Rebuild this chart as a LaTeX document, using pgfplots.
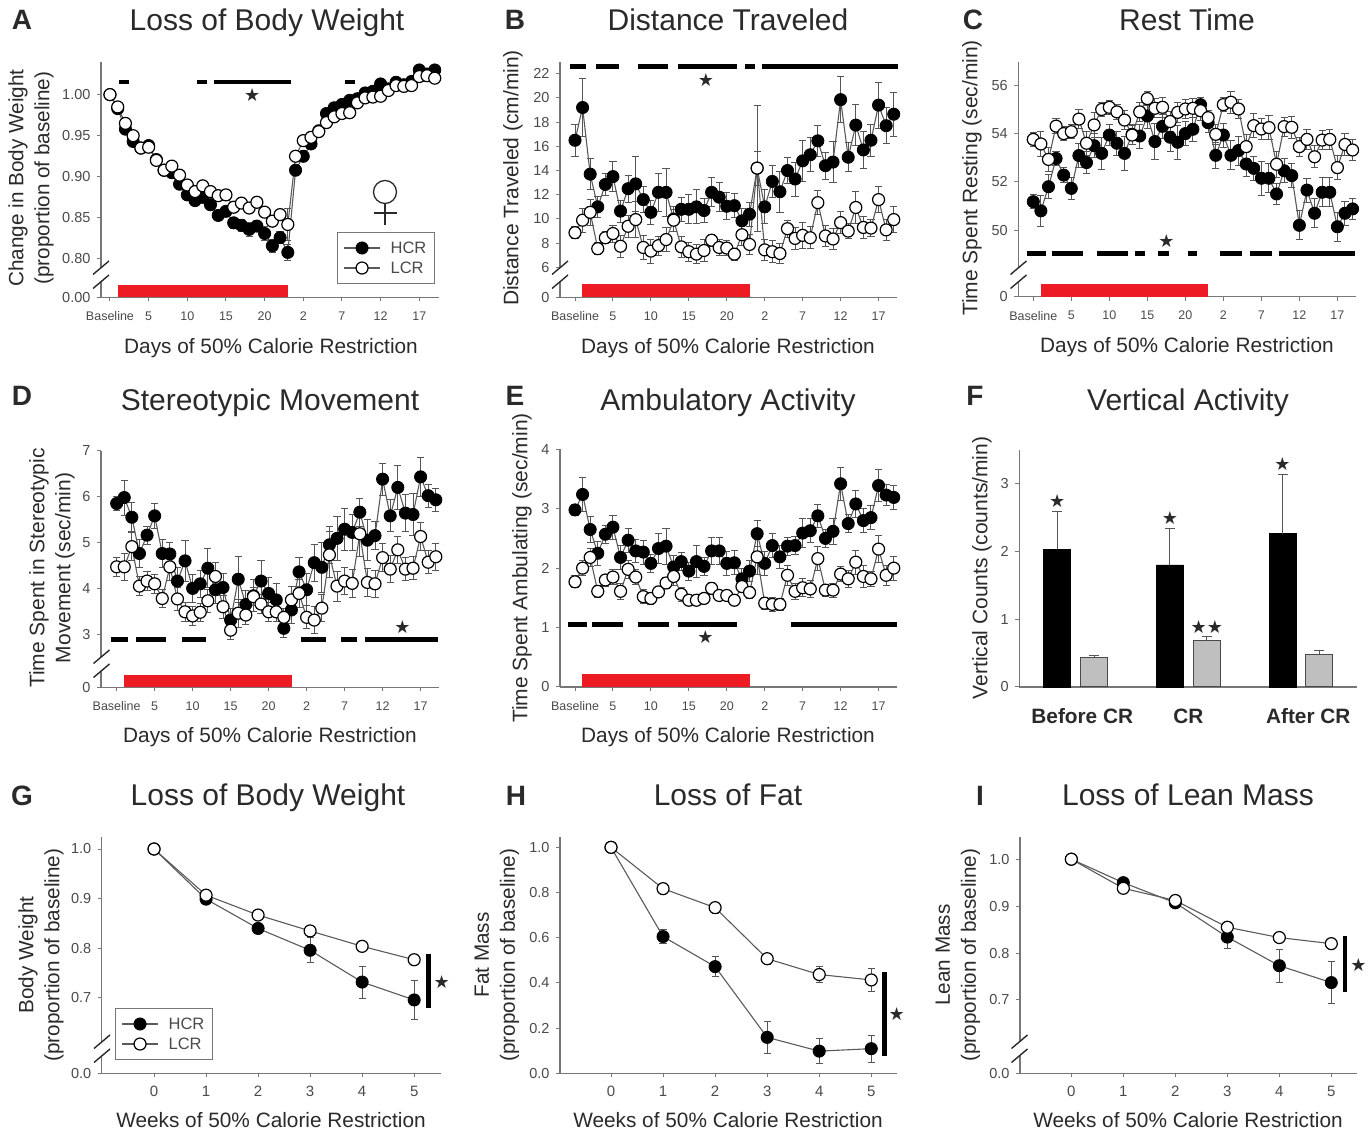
\documentclass[border=0pt]{standalone}
\usepackage{pgfplots}
\usepackage{pgfplotstable}
\usepackage{fontspec}
\setmainfont{Liberation Sans}
\newfontfamily\sym{DejaVu Sans}
\pgfplotsset{compat=1.18}
\definecolor{tx}{HTML}{2A2A2A}
\definecolor{tk}{HTML}{4A4A4A}
\definecolor{ax}{HTML}{777777}
\definecolor{ln}{HTML}{5A5A5A}
\definecolor{er}{HTML}{555555}
\definecolor{rd}{HTML}{ED1C24}
\newcommand\SetPanel[4]{\def\PL{#1}\def\PT{#2}\def\PR{#3}\def\PB{#4}%
 \pgfmathsetmacro\PY{1134-#4}\pgfmathsetmacro\PW{#3-#1}\pgfmathsetmacro\PH{#4-#2}}
\tikzset{px at/.style 2 args={at={(axis description cs:{(#1-\PL)/(\PR-\PL)},{(\PB-#2)/(\PB-\PT)})},anchor=center}}
\pgfplotsset{
 bx/.style={scale only axis,at={(\PL pt,\PY pt)},anchor=south west,width=\PW pt,height=\PH pt,
  axis x line*=bottom,axis y line*=left,clip=false,unbounded coords=jump,
  axis line style={ax,line width=1.2pt,-},
  tick align=outside,major tick length=4pt,tick style={ax,line width=1pt},
  minor tick num=0,every axis title shift=0pt,
  title style={font=\fontsize{30}{34}\selectfont,text=tx,text height=22pt,text depth=7pt,yshift=-2.5pt},
  xlabel style={font=\fontsize{20.8}{25}\selectfont,text=tx},
  ylabel style={font=\fontsize{21}{26}\selectfont,text=tx,align=center},
  yticklabel style={font=\fontsize{14.5}{16}\selectfont,text=tk,xshift=-3pt},
  xticklabel style={font=\fontsize{12}{14}\selectfont,text=tk,yshift=-5pt},
  legend cell align=left,
  legend image code/.code={\draw[##1,mark repeat=2,mark phase=2] plot coordinates {(0pt,0pt)(18pt,0pt)(36pt,0pt)};},
  legend style={font=\fontsize{16.5}{18}\selectfont,text=tk,draw=ax,line width=1pt,anchor=north west,
   inner xsep=6pt,inner ysep=7pt,row sep=3pt,/tikz/every odd column/.append style={column sep=8pt}},
 },
 two/.style={ylabel style={font=\fontsize{20.7}{26}\selectfont}},
 daily/.style={xtick={0,5,10,15,20,25,30,35,40},xticklabels={Baseline,5,10,15,20,2,7,12,17},
  xlabel style={yshift=-2pt},
  xticklabel style={font=\fontsize{12.5}{14}\selectfont,yshift=-2pt}},
 weekly/.style={two,xtick={0,1,2,3,4,5},xticklabels={0,1,2,3,4,5},xticklabel style={font=\fontsize{15}{16}\selectfont,yshift=0pt}},
 hcr/.style={ln,line width=1.1pt,mark=*,mark size=6.1pt,mark options={fill=black,draw=black,solid,line width=.8pt},
  error bars/.cd,y dir=both,y explicit,error bar style={er,line width=1pt},error mark options={er,mark size=3.6pt,line width=.9pt,rotate=90}},
 lcr/.style={ln,line width=1.1pt,mark=*,mark size=6pt,mark options={fill=white,draw=black,solid,line width=1.2pt},
  error bars/.cd,y dir=both,y explicit,error bar style={er,line width=1pt},error mark options={er,mark size=3.6pt,line width=.9pt,rotate=90}},
 sig/.style={black,line width=4.6pt,forget plot,no markers,line cap=butt},
 redbar/.style={draw=none,fill=rd,forget plot,no markers},
}
\tikzset{star/.style={font=\sym\fontsize{18}{20}\selectfont,text=tx,inner sep=0pt}}
\newcommand\Lab[3]{\node[font=\bfseries\fontsize{28}{30}\selectfont,text=tx,inner sep=0pt] at (#1pt,1134pt-#2pt) {#3};}
\newcommand\Brk[2]{%
 \fill[white] (#1pt-3pt,1134pt-#2pt+7pt) -- (#1pt+3pt,1134pt-#2pt+7pt) -- (#1pt+3pt,1134pt-#2pt-7pt) -- (#1pt-3pt,1134pt-#2pt-7pt) -- cycle;
 \draw[tx,line width=1.4pt] (#1pt-8pt,1134pt-#2pt+.5pt) -- (#1pt+8pt,1134pt-#2pt+14pt);
 \draw[tx,line width=1.4pt] (#1pt-8pt,1134pt-#2pt-13.5pt) -- (#1pt+8pt,1134pt-#2pt);}
% ---------- data: i, HCR, error, LCR, error
\pgfplotstableread[row sep=\\]{
i h he l le\\
0 1.000 0 1.000 0\\ 1 .983 .003 .985 .003\\ 2 .958 .004 .965 .003\\ 3 .943 .004 .950 .003\\ 4 .935 .004 .935 .003\\
5 .938 .004 .936 .003\\ 6 .921 .004 .920 .003\\ 7 .908 .004 .908 .003\\ 8 .905 .005 .913 .004\\ 9 .891 .005 .902 .004\\
10 .878 .005 .890 .004\\ 11 .871 .005 .882 .004\\ 12 .875 .006 .889 .004\\ 13 .866 .006 .882 .004\\ 14 .853 .006 .877 .004\\
15 .858 .006 .878 .004\\ 16 .844 .007 .863 .005\\ 17 .841 .007 .868 .005\\ 18 .836 .008 .862 .005\\ 19 .840 .007 .869 .005\\
20 .831 .008 .857 .005\\ 21 .816 .008 .846 .006\\ 22 .826 .007 .854 .005\\ 23 .808 .010 .842 .020\\ 24 .908 .006 .925 .005\\
25 .925 .005 .944 .004\\ 26 .940 .004 .948 .004\\ 27 .956 .004 .955 .004\\ 28 .977 .004 .966 .004\\ 29 .984 .004 .973 .004\\
30 .988 .004 .977 .004\\ 31 .993 .004 .978 .004\\ 32 .995 .004 .990 .004\\ 33 1.002 .004 .996 .004\\ 34 1.004 .004 .997 .004\\
35 1.013 .004 .998 .004\\ 36 1.007 .004 1.005 .004\\ 37 1.015 .004 1.011 .004\\ 38 1.012 .004 1.010 .004\\ 39 1.016 .004 1.011 .004\\
40 1.030 .004 1.022 .005\\ 41 1.025 .005 1.023 .007\\ 42 1.030 .004 1.020 .005\\
}\tA
\pgfplotstableread[row sep=\\]{
i h he l le\\
0 16.5 1.3 8.87 .5\\ 1 19.2 2.4 9.9 1.0\\ 2 13.7 1.3 10.55 1.1\\ 3 11.0 .9 7.55 .5\\ 4 12.85 .9 8.45 .5\\
5 13.5 1.25 8.8 .7\\ 6 10.65 .9 7.75 .9\\ 7 12.5 1.1 9.4 .9\\ 8 12.9 2.3 9.95 1.5\\ 9 11.6 1.1 7.65 1.0\\
10 10.55 1.0 7.35 1.0\\ 11 12.2 1.6 7.8 .8\\ 12 12.2 2.0 8.3 1.0\\ 13 10.0 1.0 9.9 .9\\ 14 10.8 1.0 7.7 .9\\
15 10.8 1.2 7.3 .8\\ 16 11.0 1.4 7.1 .8\\ 17 10.7 1.0 7.4 .9\\ 18 12.2 1.2 8.25 .5\\ 19 11.8 1.2 7.65 .7\\
20 11.05 1.1 7.6 .6\\ 21 11.1 1.0 7.1 .5\\ 22 9.85 1.0 8.7 .9\\ 23 10.4 1.0 7.9 .8\\ 24 14.2 5.2 14.2 1.4\\
25 11.0 1.4 7.45 .9\\ 26 13.1 1.3 7.3 .9\\ 27 12.25 1.7 7.15 .8\\ 28 14.0 1.1 9.2 .7\\ 29 13.3 1.4 8.4 .9\\
30 14.8 1.7 8.65 1.1\\ 31 15.3 1.4 8.45 .9\\ 32 16.45 1.3 11.35 1.0\\ 33 14.4 1.1 8.6 .9\\ 34 14.7 1.7 8.35 .9\\
35 19.85 1.9 9.7 .9\\ 36 15.1 1.2 9.0 .6\\ 37 17.75 1.7 10.95 1.3\\ 38 15.7 1.5 9.3 .9\\ 39 16.5 1.3 9.25 .7\\
40 19.4 1.9 11.6 1.1\\ 41 17.7 1.5 9.1 .9\\ 42 18.65 1.8 9.95 1.1\\
}\tB
\pgfplotstableread[row sep=\\]{
i h he l le\\
0 51.18 .3 53.76 .3\\ 1 50.8 .65 53.57 .5\\ 2 51.8 .5 52.93 .5\\ 3 52.97 .3 54.31 .3\\ 4 52.28 .3 54.0 .3\\
5 51.73 .45 54.08 .3\\ 6 53.09 .5 54.6 .4\\ 7 52.8 .45 53.6 .5\\ 8 53.5 .5 54.36 .5\\ 9 53.18 .65 55.0 .3\\
10 53.94 .45 55.09 .3\\ 11 53.6 .5 54.9 .3\\ 12 53.18 .7 54.56 .4\\ 13 53.97 .4 53.94 .4\\ 14 53.9 .5 54.9 .4\\
15 54.73 .5 55.45 .3\\ 16 53.67 .75 55.05 .4\\ 17 54.3 .5 55.09 .4\\ 18 53.85 .6 54.5 .4\\ 19 53.64 .7 54.88 .4\\
20 54.0 .5 55.02 .4\\ 21 54.18 .5 55.05 .4\\ 22 55.2 .3 54.95 .4\\ 23 54.45 .4 54.66 .3\\ 24 53.1 .55 53.97 .4\\
25 53.94 .5 55.2 .3\\ 26 53.1 .6 55.3 .45\\ 27 53.3 .6 55.02 .4\\ 28 52.74 .5 53.46 .5\\ 29 52.56 .5 54.33 .5\\
30 52.15 .7 54.19 .45\\ 31 52.15 .6 54.25 .5\\ 32 51.5 .45 52.73 .55\\ 33 52.46 .5 54.29 .4\\ 34 52.26 .5 54.26 .45\\
35 50.2 .6 53.46 .4\\ 36 51.66 .5 53.76 .4\\ 37 50.7 .6 53.04 .45\\ 38 51.57 .6 53.73 .4\\ 39 51.57 .6 53.76 .4\\
40 50.14 .6 52.59 .5\\ 41 50.7 .5 53.55 .45\\ 42 50.88 .45 53.32 .45\\
}\tC
\pgfplotstableread[row sep=\\]{
i h he l le\\
0 5.85 .15 4.47 .2\\ 1 5.98 .38 4.47 .3\\ 2 5.55 .32 4.91 .3\\ 3 4.76 .3 4.05 .2\\ 4 5.16 .2 4.16 .2\\
5 5.58 .28 4.1 .2\\ 6 4.76 .3 3.78 .2\\ 7 4.75 .25 4.47 .3\\ 8 4.16 .3 3.77 .25\\ 9 4.6 .45 3.49 .2\\
10 4.0 .3 3.4 .2\\ 11 4.1 .3 3.48 .2\\ 12 4.44 .42 3.73 .25\\ 13 3.97 .3 4.26 .3\\ 14 4.02 .3 3.6 .25\\
15 3.31 .25 3.09 .2\\ 16 4.2 .5 3.46 .3\\ 17 3.65 .3 3.42 .2\\ 18 3.84 .35 3.82 .2\\ 19 4.16 .45 3.66 .2\\
20 3.89 .35 3.49 .2\\ 21 3.75 .35 3.49 .2\\ 22 3.13 .2 3.37 .2\\ 23 3.53 .3 3.75 .3\\ 24 4.36 .32 3.89 .3\\
25 3.97 .35 3.37 .25\\ 26 4.56 .4 3.31 .3\\ 27 4.46 .55 3.57 .3\\ 28 4.95 .4 4.73 .5\\ 29 5.09 .48 4.05 .33\\
30 5.29 .46 4.16 .3\\ 31 5.22 .4 4.11 .3\\ 32 5.66 .3 5.19 .5\\ 33 5.05 .45 4.13 .3\\ 34 5.15 .3 4.1 .3\\
35 6.38 .35 4.67 .3\\ 36 5.58 .35 4.42 .3\\ 37 6.2 .47 4.84 .3\\ 38 5.64 .4 4.42 .25\\ 39 5.61 .45 4.44 .25\\
40 6.43 .42 5.13 .3\\ 41 6.02 .25 4.57 .25\\ 42 5.93 .25 4.69 .3\\
}\tD
\pgfplotstableread[row sep=\\]{
i h he l le\\
0 2.98 .1 1.77 .1\\ 1 3.24 .28 2.0 .13\\ 2 2.65 .22 2.18 .15\\ 3 2.25 .2 1.61 .1\\ 4 2.57 .15 1.8 .1\\
5 2.69 .2 1.85 .12\\ 6 2.18 .2 1.61 .13\\ 7 2.47 .2 1.98 .15\\ 8 2.29 .2 1.85 .13\\ 9 2.27 .2 1.52 .12\\
10 2.08 .15 1.49 .1\\ 11 2.33 .25 1.6 .1\\ 12 2.37 .3 1.75 .1\\ 13 2.02 .2 1.86 .15\\ 14 2.11 .15 1.56 .12\\
15 1.95 .15 1.46 .08\\ 16 2.11 .27 1.46 .08\\ 17 2.03 .15 1.49 .08\\ 18 2.29 .22 1.66 .1\\ 19 2.29 .22 1.54 .08\\
20 2.08 .2 1.54 .08\\ 21 2.09 .2 1.46 .08\\ 22 1.82 .18 1.69 .1\\ 23 1.95 .18 1.59 .1\\ 24 2.58 .22 2.19 .3\\
25 2.08 .2 1.41 .1\\ 26 2.38 .2 1.39 .12\\ 27 2.19 .2 1.39 .1\\ 28 2.37 .15 1.88 .17\\ 29 2.38 .15 1.61 .13\\
30 2.59 .25 1.67 .15\\ 31 2.63 .2 1.65 .14\\ 32 2.88 .2 2.16 .2\\ 33 2.5 .15 1.63 .1\\ 34 2.62 .22 1.63 .12\\
35 3.42 .28 1.9 .13\\ 36 2.75 .15 1.82 .14\\ 37 3.08 .22 2.1 .2\\ 38 2.8 .2 1.86 .18\\ 39 2.85 .2 1.82 .12\\
40 3.39 .27 2.32 .23\\ 41 3.23 .17 1.88 .17\\ 42 3.19 .2 2.0 .2\\
}\tE
\begin{document}
\begin{tikzpicture}
\useasboundingbox (0,0) rectangle (1369pt,1134pt);
% ---------- A
\SetPanel{101}{62}{439.3}{297.3}
\begin{axis}[bx,daily,two,xmin=-1.16,xmax=42.59,ymin=.7534,ymax=1.0397,
 ytick={.7534,.80,.85,.90,.95,1.00},yticklabels={0.00,0.80,0.85,0.90,0.95,1.00},
 title={Loss of Body Weight},title style={px at={267}{21}},
 xlabel={Days of 50\% Calorie Restriction},xlabel style={px at={271}{346}},
 ylabel={Change in Body Weight\\(proportion of baseline)},ylabel style={px at={31}{178}},
 legend style={at={(axis description cs:{(337-\PL)/(\PR-\PL)},{(\PB-232)/(\PB-\PT)})}}]
\addplot[redbar] coordinates {(1.08,.7534)(1.08,.7684)(22.97,.7684)(22.97,.7534)};
\addplot[sig] coordinates {(1.2,1.0154)(2.5,1.0154)(2.5,nan)(11.3,1.0154)(12.6,1.0154)(12.6,nan)(13.45,1.0154)(23.4,1.0154)(23.4,nan)(30.4,1.0154)(31.7,1.0154)};
\addplot+[hcr] table[x=i,y=h,y error=he]{\tA};
\addplot+[lcr] table[x=i,y=l,y error=le]{\tA};
\legend{HCR,LCR}
\node[star] at (axis cs:18.4,.999) {★};
\end{axis}
\draw[tx,line width=1.3pt] (385pt,1134pt-192pt) circle (11.5pt);
\draw[tx,line width=1.3pt] (385pt,1134pt-203.5pt) -- (385pt,1134pt-225pt) (374pt,1134pt-213pt) -- (397pt,1134pt-213pt);
% ---------- B
\SetPanel{560}{62}{897.3}{297.3}
\begin{axis}[bx,daily,xmin=-1.976,xmax=42.47,ymin=3.538,ymax=22.96,
 ytick={3.538,6,8,10,12,14,16,18,20,22},yticklabels={0,6,8,10,12,14,16,18,20,22},
 title={Distance Traveled},title style={px at={728}{21}},
 xlabel={Days of 50\% Calorie Restriction},xlabel style={px at={728}{346}},
 ylabel={Distance Traveled (cm/min)},ylabel style={px at={513}{178}}]
\addplot[redbar] coordinates {(.92,3.538)(.92,4.61)(23.06,4.61)(23.06,3.538)};
\addplot[sig] coordinates {(-.66,22.6)(1.45,22.6)(1.45,nan)(2.77,22.6)(5.84,22.6)(5.84,nan)(8.34,22.6)(12.2,22.6)(12.2,nan)(13.6,22.6)(21.3,22.6)(21.3,nan)(22.4,22.6)(23.7,22.6)(23.7,nan)(24.7,22.6)(42.5,22.6)};
\addplot+[hcr] table[x=i,y=h,y error=he]{\tB};
\addplot+[lcr] table[x=i,y=l,y error=le]{\tB};
\node[star] at (axis cs:17.26,21.5) {★};
\end{axis}
% ---------- C
\SetPanel{1018.3}{61.7}{1356}{296.7}
\begin{axis}[bx,daily,xmin=-1.97,xmax=42.45,ymin=47.243,ymax=56.98,
 ytick={47.243,50,52,54,56},yticklabels={0,50,52,54,56},
 title={Rest Time},title style={px at={1187}{21}},
 xlabel={Days of 50\% Calorie Restriction},xlabel style={px at={1187}{345}},
 ylabel={Time Spent Resting (sec/min)},ylabel style={px at={972}{178}}]
\addplot[redbar] coordinates {(.96,47.243)(.96,47.75)(23,47.75)(23,47.243)};
\addplot[sig] coordinates {(-.79,49.04)(1.62,49.04)(1.62,nan)(2.41,49.04)(6.49,49.04)(6.49,nan)(8.42,49.04)(12.5,49.04)(12.5,nan)(13.4,49.04)(14.7,49.04)(14.7,nan)(16.4,49.04)(17.8,49.04)(17.8,nan)(20.4,49.04)(21.6,49.04)(21.6,nan)(24.6,49.04)(27.4,49.04)(27.4,nan)(28.5,49.04)(31.4,49.04)(31.4,nan)(32.3,49.04)(42.3,49.04)};
\addplot+[hcr] table[x=i,y=h,y error=he]{\tC};
\addplot+[lcr] table[x=i,y=l,y error=le]{\tC};
\node[star] at (axis cs:17.5,49.56) {★};
\end{axis}
% ---------- D
\SetPanel{101}{450.7}{439.3}{687.3}
\begin{axis}[bx,daily,xmin=-2.06,xmax=42.46,ymin=1.846,ymax=7,
 ytick={1.846,3,4,5,6,7},yticklabels={0,3,4,5,6,7},
 title={Stereotypic Movement},title style={px at={270}{401}},
 xlabel={Days of 50\% Calorie Restriction},xlabel style={px at={270}{735}},
 ylabel={Time Spent in Stereotypic\\Movement (sec/min)},ylabel style={px at={52}{568}}]
\addplot[redbar] coordinates {(1,1.846)(1,2.114)(23.1,2.114)(23.1,1.846)};
\addplot[sig] coordinates {(-.79,2.884)(1.54,2.884)(1.54,nan)(2.5,2.884)(6.45,2.884)(6.45,nan)(8.64,2.884)(11.75,2.884)(11.75,nan)(24.3,2.884)(27.5,2.884)(27.5,nan)(29.5,2.884)(31.6,2.884)(31.6,nan)(32.7,2.884)(42.3,2.884)};
\addplot+[hcr] table[x=i,y=h,y error=he]{\tD};
\addplot+[lcr] table[x=i,y=l,y error=le]{\tD};
\node[star] at (axis cs:37.6,3.15) {★};
\end{axis}
% ---------- E
\SetPanel{560}{449.3}{897.3}{687}
\begin{axis}[bx,daily,xmin=-1.976,xmax=42.47,ymin=0,ymax=4,
 ytick={0,1,2,3,4},yticklabels={0,1,2,3,4},
 title={Ambulatory Activity},title style={px at={728}{401}},
 xlabel={Days of 50\% Calorie Restriction},xlabel style={px at={728}{735}},
 ylabel={Time Spent Ambulating (sec/min)},ylabel style={px at={522}{568}}]
\addplot[redbar] coordinates {(.88,0)(.88,.213)(23.06,.213)(23.06,0)};
\addplot[sig] coordinates {(-.88,1.054)(1.54,1.054)(1.54,nan)(2.28,1.054)(6.37,1.054)(6.37,nan)(8.34,1.054)(12.43,1.054)(12.43,nan)(13.6,1.054)(21.3,1.054)(21.3,nan)(28.5,1.054)(42.47,1.054)};
\addplot+[hcr] table[x=i,y=h,y error=he]{\tE};
\addplot+[lcr] table[x=i,y=l,y error=le]{\tE};
\node[star] at (axis cs:17.2,.835) {★};
\end{axis}
% ---------- F
\SetPanel{1019.3}{450}{1357.3}{687}
\begin{axis}[bx,xmin=-.5,xmax=2.5,ymin=0,ymax=3.49,
 ytick={0,1,2,3},yticklabels={0,1,2,3},
 xtick={.059,1,2.065},xticklabels={Before CR,CR,After CR},x tick style={draw=none},
 xticklabel style={font=\bfseries\fontsize{20.8}{22}\selectfont,text=tx,yshift=-9pt},
 title={Vertical Activity},title style={px at={1188}{401}},
 ylabel={Vertical Counts (counts/min)},ylabel style={px at={982}{568}}]
\addplot[ybar,bar width=27pt,bar shift=0pt,fill=black,draw=black,
 error bars/.cd,y dir=plus,y explicit,error bar style={er,line width=1pt},error mark options={er,mark size=5pt,line width=1pt,rotate=90}]
 coordinates {(-.164,2.03) +- (0,.55) (.836,1.80) +- (0,.54) (1.836,2.26) +- (0,.87)};
\addplot[ybar,bar width=27pt,bar shift=0pt,fill=black!25,draw=tk,line width=1pt,
 error bars/.cd,y dir=plus,y explicit,error bar style={er,line width=1pt},error mark options={er,mark size=5pt,line width=1pt,rotate=90}]
 coordinates {(.164,.44) +- (0,.03) (1.164,.68) +- (0,.07) (2.164,.48) +- (0,.06)};
\node[star] at (axis cs:-.164,2.74) {★};
\node[star] at (axis cs:.836,2.49) {★};
\node[star] at (axis cs:1.836,3.29) {★};
\node[star] at (axis cs:1.164,.88) {★★};
\end{axis}
% ---------- G
\SetPanel{101.7}{836.7}{440.7}{1073.3}
\begin{axis}[bx,weekly,xmin=-1.006,xmax=5.51,ymin=.5483,ymax=1.0248,
 ytick={.5483,.7,.8,.9,1},yticklabels={0.0,0.7,0.8,0.9,1.0},
 title={Loss of Body Weight},title style={px at={268}{796}},
 xlabel={Weeks of 50\% Calorie Restriction},xlabel style={px at={271}{1120}},
 ylabel={Body Weight\\(proportion of baseline)},ylabel style={px at={41}{955}},
 legend style={at={(axis description cs:{(115-\PL)/(\PR-\PL)},{(\PB-1008)/(\PB-\PT)})}}]
\addplot[sig] coordinates {(5.276,.7886)(5.276,.679)};
\addplot+[hcr] coordinates {(0,1) +- (0,0) (1,.899) +- (0,.005) (2,.84) +- (0,.01) (3,.796) +- (0,.025) (4,.732) +- (0,.032) (5,.696) +- (0,.04)};
\addplot+[lcr] coordinates {(0,1) +- (0,0) (1,.907) +- (0,.003) (2,.867) +- (0,.003) (3,.835) +- (0,.003) (4,.804) +- (0,.003) (5,.777) +- (0,.003)};
\legend{HCR,LCR}
\node[star] at (axis cs:5.53,.733) {★};
\end{axis}
% ---------- H
\SetPanel{560}{836.7}{897.3}{1073.3}
\begin{axis}[bx,weekly,xmin=-.98,xmax=5.5,ymin=0,ymax=1.047,
 ytick={0,.2,.4,.6,.8,1},yticklabels={0.0,0.2,0.4,0.6,0.8,1.0},
 title={Loss of Fat},title style={px at={728}{796}},
 xlabel={Weeks of 50\% Calorie Restriction},xlabel style={px at={728}{1120}},
 ylabel={Fat Mass\\(proportion of baseline)},ylabel style={px at={497}{955}}]
\addplot[sig] coordinates {(5.25,.447)(5.25,.078)};
\addplot+[hcr] coordinates {(0,1) +- (0,0) (1,.605) +- (0,.03) (2,.472) +- (0,.045) (3,.159) +- (0,.07) (4,.098) +- (0,.055) (5,.109) +- (0,.06)};
\addplot+[lcr] coordinates {(0,1) +- (0,0) (1,.817) +- (0,.015) (2,.733) +- (0,.025) (3,.507) +- (0,.025) (4,.437) +- (0,.035) (5,.413) +- (0,.05)};
\node[star] at (axis cs:5.49,.261) {★};
\end{axis}
% ---------- I
\SetPanel{1020}{836.7}{1357.3}{1073.3}
\begin{axis}[bx,weekly,xmin=-.987,xmax=5.5,ymin=.5437,ymax=1.048,
 ytick={.5437,.7,.8,.9,1},yticklabels={0.0,0.7,0.8,0.9,1.0},
 title={Loss of Lean Mass},title style={px at={1188}{796}},
 xlabel={Weeks of 50\% Calorie Restriction},xlabel style={px at={1188}{1120}},
 ylabel={Lean Mass\\(proportion of baseline)},ylabel style={px at={958}{955}}]
\addplot[sig] coordinates {(5.26,.837)(5.26,.716)};
\addplot+[hcr] coordinates {(0,1) +- (0,0) (1,.95) +- (0,.007) (2,.907) +- (0,.005) (3,.834) +- (0,.025) (4,.773) +- (0,.035) (5,.737) +- (0,.045)};
\addplot+[lcr] coordinates {(0,1) +- (0,0) (1,.938) +- (0,.003) (2,.912) +- (0,.003) (3,.855) +- (0,.003) (4,.833) +- (0,.003) (5,.82) +- (0,.003)};
\node[star] at (axis cs:5.52,.775) {★};
\end{axis}
% ---------- letters and axis breaks
\Lab{22}{20}{A}\Lab{515}{20}{B}\Lab{973}{20}{C}
\Lab{22}{396}{D}\Lab{515}{396}{E}\Lab{975}{396}{F}
\Lab{22}{796}{G}\Lab{516}{796}{H}\Lab{980}{796}{I}
\Brk{101}{275}\Brk{560}{275}\Brk{1018.5}{275}
\Brk{101.5}{664}\Brk{102}{1049}\Brk{1019.5}{1049}
\end{tikzpicture}
\end{document}
